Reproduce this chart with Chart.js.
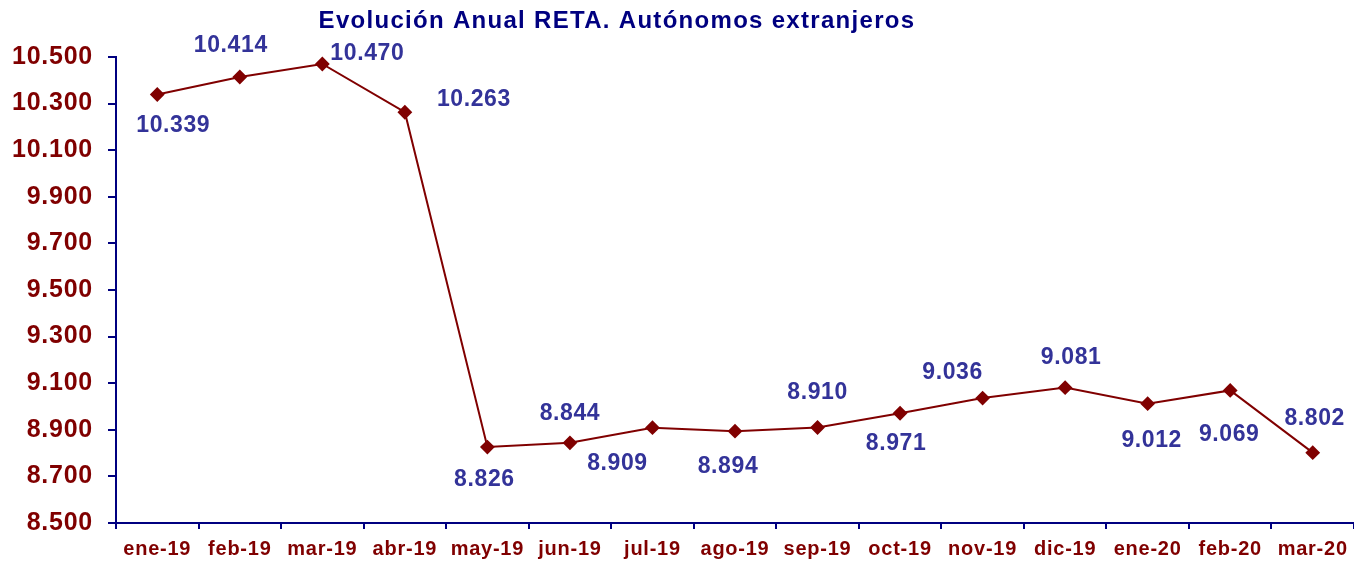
<!DOCTYPE html>
<html>
<head>
<meta charset="utf-8">
<script src="https://cdn.jsdelivr.net/npm/chart.js@4"></script>
<style>
  html, body { margin: 0; padding: 0; background: #fff; }
  #wrap { width: 1354px; height: 561px; }
</style>
</head>
<body>
<div id="wrap"><canvas id="chart" width="1354" height="561"></canvas></div>
<script>
// Chart data
const months = ['ene-19', 'feb-19', 'mar-19', 'abr-19', 'may-19', 'jun-19', 'jul-19', 'ago-19',
                'sep-19', 'oct-19', 'nov-19', 'dic-19', 'ene-20', 'feb-20', 'mar-20'];
const autonomos = [10339, 10414, 10470, 10263, 8826, 8844, 8909, 8894,
                   8910, 8971, 9036, 9081, 9012, 9069, 8802];
const yTicks = [8500, 8700, 8900, 9100, 9300, 9500, 9700, 9900, 10100, 10300, 10500];
const chartTitle = 'Evolución Anual RETA. Autónomos extranjeros';

// where each value label sits relative to its point (dx, dy in px)
const labelOffsets = [
    [16, 31], [-9, -31], [45, -10], [69, -13], [-3, 33], [0, -29], [-35, 36], [-7, 35],
    [0, -35], [-4, 30], [-30, -25], [6, -30], [4, 37], [-1, 44], [2, -34]
];

const fmt = v => String(v).replace(/\B(?=(\d{3})+(?!\d))/g, '.');

const DARK_RED = '#800000';
const NAVY = '#000080';
const LABEL_BLUE = '#333399';
const FONT = '"Liberation Sans", Arial, sans-serif';

// Title and value labels
const labelsPlugin = {
    id: 'valueLabels',
    beforeDraw(chart) {
        chart.ctx.letterSpacing = '0.75px';
    },
    afterDraw(chart) {
        const ctx = chart.ctx;
        ctx.save();
        ctx.letterSpacing = '1.3px';
        ctx.fillStyle = NAVY;
        ctx.font = 'bold 24px ' + FONT;
        ctx.textAlign = 'center';
        ctx.textBaseline = 'middle';
        ctx.fillText(chartTitle, 617, 21);

        ctx.letterSpacing = '0.6px';
        ctx.fillStyle = LABEL_BLUE;
        ctx.font = 'bold 23px ' + FONT;
        const meta = chart.getDatasetMeta(0);
        meta.data.forEach((pt, i) => {
            const [dx, dy] = labelOffsets[i];
            ctx.fillText(fmt(autonomos[i]), pt.x + dx, pt.y + dy);
        });
        ctx.restore();
    }
};

new Chart(document.getElementById('chart'), {
    type: 'line',
    data: {
        labels: months,
        datasets: [{
            data: autonomos,
            borderColor: DARK_RED,
            backgroundColor: DARK_RED,
            borderWidth: 2,
            pointStyle: 'rectRot',
            pointRadius: 6,
            pointHoverRadius: 6,
            tension: 0,
            clip: false
        }]
    },
    options: {
        responsive: false,
        animation: false,
        events: [],
        layout: { autoPadding: false, padding: { top: 57, right: 0, left: 0, bottom: 0 } },
        plugins: {
            legend: { display: false },
            tooltip: { enabled: false }
        },
        scales: {
            x: {
                offset: true,
                border: { color: NAVY, width: 2 },
                grid: {
                    offset: true,
                    drawOnChartArea: false,
                    drawTicks: true,
                    tickLength: 6,
                    color: NAVY,
                    lineWidth: 2
                },
                ticks: {
                    color: DARK_RED,
                    font: { family: FONT, size: 20, weight: 'bold' },
                    padding: 8,
                    maxRotation: 0,
                    autoSkip: false
                },
                afterFit(scale) {
                    scale.height = 38;
                    scale.paddingLeft = 0;
                    scale.paddingRight = 0;
                }
            },
            y: {
                min: 8500,
                max: 10500,
                border: { color: NAVY, width: 2 },
                grid: {
                    drawOnChartArea: false,
                    drawTicks: true,
                    tickLength: 8,
                    color: NAVY,
                    lineWidth: 2
                },
                afterBuildTicks(scale) {
                    scale.ticks = yTicks.map(v => ({ value: v }));
                },
                ticks: {
                    color: DARK_RED,
                    font: { family: FONT, size: 25, weight: 'bold' },
                    padding: 15,
                    callback: v => fmt(v)
                },
                afterFit(scale) {
                    scale.width = 116;
                    scale.paddingTop = 0;
                    scale.paddingBottom = 0;
                }
            }
        }
    },
    plugins: [labelsPlugin]
});
</script>
</body>
</html>
